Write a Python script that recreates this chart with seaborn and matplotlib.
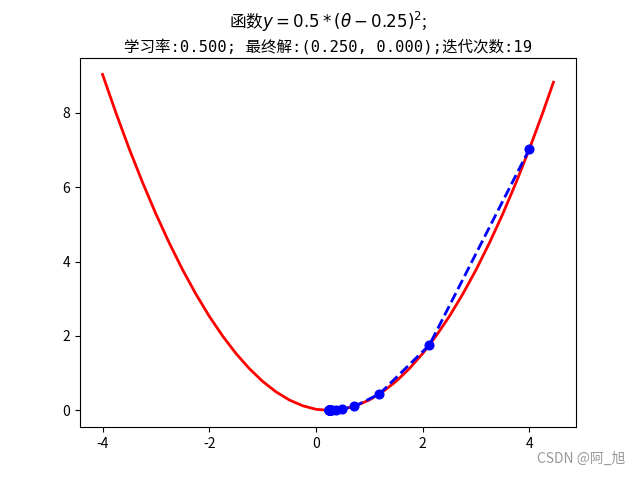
import matplotlib
matplotlib.use("Agg")
import matplotlib.pyplot as plt
import seaborn as sns
import pandas as pd

plt.rcParams['font.family'] = ['Noto Sans CJK SC', 'DejaVu Sans']
plt.rcParams['axes.unicode_minus'] = False

curve_x = [-4.0, -3.75, -3.5, -3.25, -3.0, -2.75, -2.5, -2.25, -2.0, -1.75, -1.5, -1.25,
           -1.0, -0.75, -0.5, -0.25, 0.0, 0.25, 0.5, 0.75, 1.0, 1.25, 1.5, 1.75, 2.0,
           2.25, 2.5, 2.75, 3.0, 3.25, 3.5, 3.75, 4.0, 4.25, 4.45]
curve_y = [9.03, 8.0, 7.03, 6.125, 5.28, 4.5, 3.78, 3.125, 2.53, 2.0, 1.53, 1.125,
           0.78, 0.5, 0.28, 0.125, 0.03, 0.0, 0.03, 0.125, 0.28, 0.5, 0.78, 1.125, 1.53,
           2.0, 2.53, 3.125, 3.78, 4.5, 5.28, 6.125, 7.03, 8.0, 8.82]

path_theta = [4.0, 2.125, 1.1875, 0.7188, 0.4844, 0.3672, 0.3086, 0.2793, 0.2646, 0.2573,
              0.2537, 0.2518, 0.2509, 0.2505, 0.2502, 0.2501, 0.2501, 0.2500, 0.2500, 0.2500]
path_y = [7.03, 1.758, 0.44, 0.11, 0.0275, 0.0069, 0.0017, 0.0004, 0.0001, 0.0,
          0.0, 0.0, 0.0, 0.0, 0.0, 0.0, 0.0, 0.0, 0.0, 0.0]

title_line1 = "函数$y = 0.5 * (\\theta - 0.25)^2$;"
title_line2 = "学习率:0.500; 最终解:(0.250, 0.000);迭代次数:19"
watermark = "CSDN @阿_旭"

fig, ax = plt.subplots(figsize=(6.4, 4.8), dpi=100)
curve = pd.DataFrame({"x": curve_x, "y": curve_y})
path = pd.DataFrame({"x": path_theta, "y": path_y})

sns.lineplot(data=curve, x="x", y="y", color="red", linewidth=2, ax=ax, sort=False)
sns.lineplot(data=path, x="x", y="y", color="blue", linewidth=2, linestyle="--",
             marker="o", markersize=6.5, markeredgecolor="blue", ax=ax, sort=False)

ax.set_xlabel("")
ax.set_ylabel("")
ax.set_title(title_line2, fontsize=11.2, family=['DejaVu Sans Mono', 'Noto Sans CJK SC'], pad=4)
ax.annotate(title_line1, xy=(0.5, 1.0), xycoords="axes fraction", xytext=(0, 17),
            textcoords="offset points", ha="center", va="bottom", fontsize=12)
fig.text(0.977, 0.03, watermark, ha="right", va="bottom", color="#999999", fontsize=10)

fig.savefig("out.png", dpi=100)
